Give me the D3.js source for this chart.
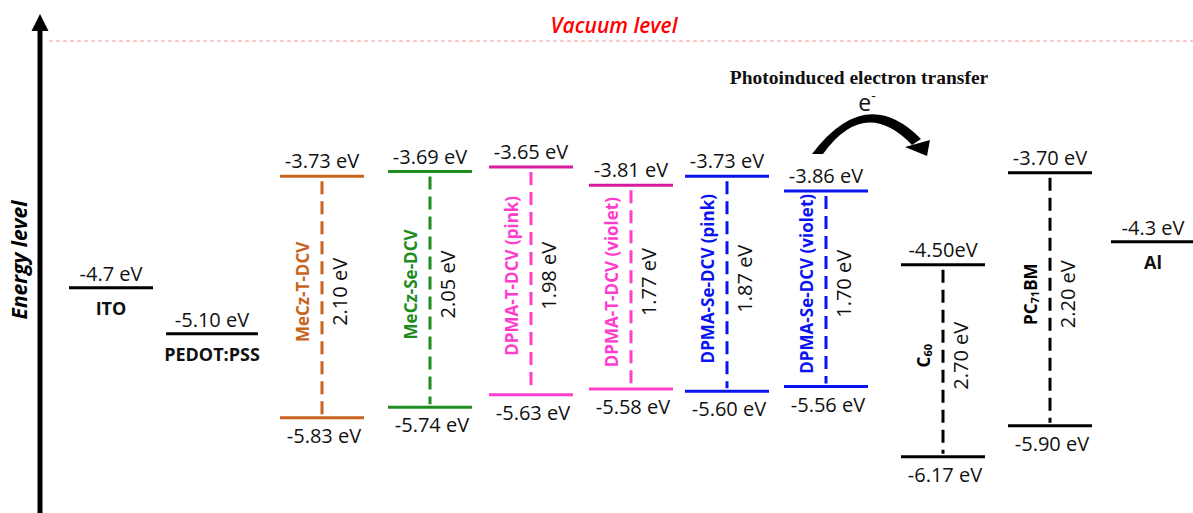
<!DOCTYPE html>
<html><head><meta charset="utf-8">
<script src="https://cdn.jsdelivr.net/npm/d3@7"></script>
<style>html,body{margin:0;padding:0;background:#fff;} svg{display:block;}</style>
</head><body>
<svg id="chart" width="1193" height="513"></svg>
<script>
// ---------- data ----------
const categories = ["ITO","PEDOT:PSS","MeCz-T-DCV","MeCz-Se-DCV","DPMA-T-DCV (pink)","DPMA-T-DCV (violet)","DPMA-Se-DCV (pink)","DPMA-Se-DCV (violet)","C60","PC71BM","Al"];
const electrodes = ["ITO","PEDOT:PSS","Al"];
const electrodeLevels = [-4.7, -5.10, -4.3];
const electrodeLabels = ["-4.7 eV","-5.10 eV","-4.3 eV"];
const materials = ["MeCz-T-DCV","MeCz-Se-DCV","DPMA-T-DCV (pink)","DPMA-T-DCV (violet)","DPMA-Se-DCV (pink)","DPMA-Se-DCV (violet)","C60","PC71BM"];
const lumoLevels = [-3.73, -3.69, -3.65, -3.81, -3.73, -3.86, -4.50, -3.70];
const homoLevels = [-5.83, -5.74, -5.63, -5.58, -5.60, -5.56, -6.17, -5.90];
const lumoLabels = ["-3.73 eV","-3.69 eV","-3.65 eV","-3.81 eV","-3.73 eV","-3.86 eV","-4.50eV","-3.70 eV"];
const homoLabels = ["-5.83 eV","-5.74 eV","-5.63 eV","-5.58 eV","-5.60 eV","-5.56 eV","-6.17 eV","-5.90 eV"];
const bandGaps = ["2.10 eV","2.05 eV","1.98 eV","1.77 eV","1.87 eV","1.70 eV","2.70 eV","2.20 eV"];

// ---------- styles / layout ----------
const FONT = "'Open Sans', 'DejaVu Sans', sans-serif";
const styleMap = {
  "MeCz-T-DCV":          {lumo:"#C8641E", homo:"#C8641E", name:"#C8641E"},
  "MeCz-Se-DCV":         {lumo:"#1E8C1E", homo:"#1E8C1E", name:"#1E8C1E"},
  "DPMA-T-DCV (pink)":   {lumo:"#D81A9E", homo:"#FF3DCC", name:"#FF3DCC"},
  "DPMA-T-DCV (violet)": {lumo:"#D81A9E", homo:"#FF3DCC", name:"#FF3DCC"},
  "DPMA-Se-DCV (pink)":  {lumo:"#0A14F0", homo:"#0A14F0", name:"#0A14F0"},
  "DPMA-Se-DCV (violet)":{lumo:"#0A14F0", homo:"#0A14F0", name:"#0A14F0"},
  "C60":                 {lumo:"#000", homo:"#000", name:"#000"},
  "PC71BM":              {lumo:"#000", homo:"#000", name:"#000"}
};

const svg = d3.select("#chart");
const x = d3.scaleOrdinal().domain(categories)
  .range([111, 212, 322, 430, 531, 631, 727, 826, 943, 1050, 1153]);
const y = d3.scaleLinear().domain([-7, -3]).range([552.2, 92.2]);
const halfW = 42;

// ---------- axis arrow ----------
svg.append("line").attr("x1", 40).attr("x2", 40).attr("y1", 513).attr("y2", 26)
  .attr("stroke", "#000").attr("stroke-width", 5);
svg.append("path").attr("d", "M40,14 L31.5,31 L48.5,31 Z").attr("fill", "#000");
svg.append("text").attr("transform", "translate(19,260) rotate(-90)")
  .attr("text-anchor", "middle").attr("dominant-baseline", "central")
  .attr("font-family", FONT).attr("font-size", 21).attr("font-weight", "bold")
  .attr("font-style", "italic").text("Energy level");

// ---------- vacuum level ----------
svg.append("line").attr("x1", 49).attr("x2", 1193).attr("y1", 41).attr("y2", 41)
  .attr("stroke", "#F29A9A").attr("stroke-width", 1).attr("stroke-dasharray", "4,3");
svg.append("text").attr("x", 614).attr("y", 33).attr("text-anchor", "middle")
  .attr("font-family", FONT).attr("font-size", 21).attr("font-style", "italic")
  .attr("font-weight", 600).attr("fill", "#FF0000").text("Vacuum level");

// ---------- electrodes ----------
const elec = svg.append("g");
electrodes.forEach((name, i) => {
  const cx = x(name), yy = y(electrodeLevels[i]);
  const hw = name === "PEDOT:PSS" ? 46 : halfW;
  elec.append("line").attr("x1", cx - hw).attr("x2", cx + hw).attr("y1", yy).attr("y2", yy)
    .attr("stroke", "#000").attr("stroke-width", 3);
  elec.append("text").attr("x", cx).attr("y", yy - 7).attr("text-anchor", "middle")
    .attr("font-family", FONT).attr("font-size", 20).attr("fill", "#111").text(electrodeLabels[i]);
  elec.append("text").attr("x", cx).attr("y", yy + 27).attr("text-anchor", "middle")
    .attr("font-family", FONT).attr("font-size", 18).attr("font-weight", "bold")
    .attr("fill", "#111").text(name);
});

// ---------- materials ----------
function addName(sel, name) {
  const m = name.match(/^(P?C)(\d+)(.*)$/);
  if (m) {
    sel.append("tspan").text(m[1]);
    sel.append("tspan").attr("font-size", 11).attr("dy", 4).text(m[2]);
    if (m[3]) sel.append("tspan").attr("dy", -4).text(m[3]);
  } else sel.text(name);
}
const mat = svg.append("g");
materials.forEach((name, i) => {
  const st = styleMap[name];
  const cx = x(name), yL = y(lumoLevels[i]), yH = y(homoLevels[i]);
  mat.append("line").attr("x1", cx - halfW).attr("x2", cx + halfW).attr("y1", yL).attr("y2", yL)
    .attr("stroke", st.lumo).attr("stroke-width", 3);
  mat.append("line").attr("x1", cx - halfW).attr("x2", cx + halfW).attr("y1", yH).attr("y2", yH)
    .attr("stroke", st.homo).attr("stroke-width", 3);
  mat.append("line").attr("x1", cx).attr("x2", cx).attr("y1", yL + 5).attr("y2", yH - 3)
    .attr("stroke", st.homo).attr("stroke-width", 3).attr("stroke-dasharray", "13,7");
  mat.append("text").attr("x", cx).attr("y", yL - 8).attr("text-anchor", "middle")
    .attr("font-family", FONT).attr("font-size", 20).attr("fill", "#111").text(lumoLabels[i]);
  mat.append("text").attr("x", cx + 2).attr("y", yH + 25).attr("text-anchor", "middle")
    .attr("font-family", FONT).attr("font-size", 20).attr("fill", "#111").text(homoLabels[i]);
  const mid = (yL + yH) / 2 - 5;
  const nt = mat.append("text").attr("transform", `translate(${cx - 20},${mid}) rotate(-90)`)
    .attr("text-anchor", "middle").attr("dominant-baseline", "central")
    .attr("font-family", FONT).attr("font-size", 17).attr("font-weight", "bold")
    .attr("fill", st.name);
  addName(nt, name);
  mat.append("text").attr("transform", `translate(${cx + 17},${mid}) rotate(-90)`)
    .attr("text-anchor", "middle").attr("dominant-baseline", "central")
    .attr("font-family", FONT).attr("font-size", 20).attr("fill", "#111").text(bandGaps[i]);
});

// ---------- electron transfer annotation ----------
svg.append("text").attr("x", 859).attr("y", 84).attr("text-anchor", "middle")
  .attr("font-family", "'Liberation Serif', 'Times New Roman', serif").attr("font-size", 19.5)
  .attr("font-weight", "bold").attr("fill", "#111").text("Photoinduced electron transfer");
const et = svg.append("text").attr("x", 867).attr("y", 111).attr("text-anchor", "middle")
  .attr("font-family", FONT).attr("font-size", 23).attr("fill", "#111");
et.append("tspan").text("e");
et.append("tspan").attr("font-size", 14).attr("dy", -10).text("-");
svg.append("path")
  .attr("d", "M812,154 Q866,83 921,139 L912,145 Q865,96 823,154 Z").attr("fill", "#000");
svg.append("path").attr("d", "M905,147 L930,140 L927,156 Z").attr("fill", "#000");
</script>
</body></html>
